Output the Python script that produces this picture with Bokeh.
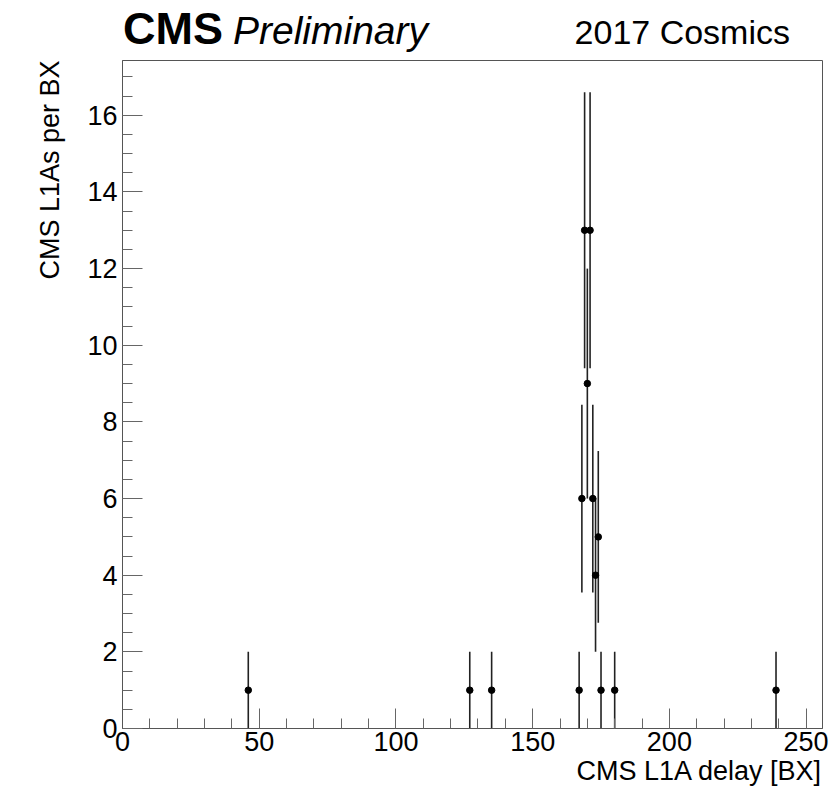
from bokeh.plotting import figure
from bokeh.models import SingleIntervalTicker, Range1d, ColumnDataSource, Div, Title
from bokeh.layouts import column
from bokeh.embed import file_html
from bokeh.resources import INLINE

# Data
delay_bx = [46, 127, 135, 167, 168, 169, 170, 171, 172, 173, 174, 175, 180, 239]
l1a_count = [1, 1, 1, 1, 6, 13, 9, 13, 6, 4, 5, 1, 1, 1]
l1a_err = [1.0, 1.0, 1.0, 1.0, 2.45, 3.6, 3.0, 3.6, 2.45, 2.0, 2.24, 1.0, 1.0, 1.0]

x_range = (0, 256)
y_range = (0, 17.43)

x_title = "CMS L1A delay [BX]"
y_title = "CMS L1As per BX"
cms_text = "CMS"
extra_text = "Preliminary"
lumi_text = "2017 Cosmics"

FONT = "Liberation Sans"
HEAD_H = 59

src = ColumnDataSource(dict(
    x=delay_bx,
    y=l1a_count,
    lo=[v - e for v, e in zip(l1a_count, l1a_err)],
    hi=[v + e for v, e in zip(l1a_count, l1a_err)],
))

header = Div(
    width=840, height=HEAD_H,
    text=(
        f"<div style=\"position:relative;width:840px;height:{HEAD_H}px;"
        f"font-family:'{FONT}';color:black;line-height:1;\">"
        f"<span style=\"position:absolute;left:123px;top:6px;font-size:45px;"
        f"font-weight:bold;white-space:nowrap;\">{cms_text}</span>"
        f"<span style=\"position:absolute;left:233px;top:11px;font-size:39px;"
        f"font-style:italic;white-space:nowrap;\">{extra_text}</span>"
        f"<span style=\"position:absolute;right:50px;top:15px;font-size:34px;"
        f"white-space:nowrap;\">{lumi_text}</span>"
        f"</div>"
    ),
    styles={"margin": "0", "padding": "0"},
)

p = figure(width=840, height=789 - HEAD_H, output_backend="svg", toolbar_location=None,
           x_range=Range1d(*x_range), y_range=Range1d(*y_range),
           min_border_left=122, min_border_right=18, min_border_top=1,
           min_border_bottom=61)
p.background_fill_color = "white"
p.border_fill_color = "white"
p.outline_line_color = "#555555"
p.outline_line_width = 1
p.xgrid.visible = False
p.ygrid.visible = False

for ax in (p.xaxis[0], p.yaxis[0]):
    ax.axis_line_color = "#555555"
    ax.major_tick_line_color = "#666666"
    ax.minor_tick_line_color = "#666666"
    ax.major_tick_out = 0
    ax.minor_tick_out = 0
    ax.major_label_text_font = FONT
    ax.major_label_text_font_size = "27px"
    ax.major_label_text_color = "black"

p.xaxis.ticker = SingleIntervalTicker(interval=50, num_minor_ticks=5)
p.xaxis.major_tick_in = 20
p.xaxis.minor_tick_in = 10
p.xaxis.major_label_standoff = 3

p.yaxis.ticker = SingleIntervalTicker(interval=2, num_minor_ticks=4)
p.yaxis.major_tick_in = 20
p.yaxis.minor_tick_in = 10
p.yaxis.major_label_standoff = 5

p.add_layout(Title(text=x_title, align="right", text_font=FONT,
                   text_font_size="27px", text_font_style="normal",
                   text_color="black", standoff=0), "below")
p.add_layout(Title(text=y_title, align="right", text_font=FONT,
                   text_font_size="27px", text_font_style="normal",
                   text_color="black", standoff=40), "left")

p.segment(x0="x", y0="lo", x1="x", y1="hi", source=src,
          line_color="#222222", line_width=1.6)
p.scatter(x="x", y="y", source=src, size=6.5, marker="circle",
          fill_color="black", line_color="black")

layout = column(header, p, spacing=0)
open("out.html", "w").write(file_html(layout, INLINE))
